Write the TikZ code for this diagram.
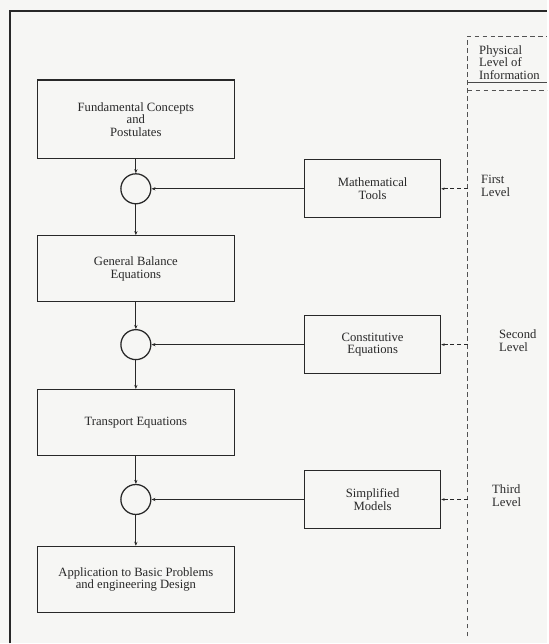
\documentclass[tikz,border=0pt]{standalone}
\usepackage{fontspec}
\setmainfont{Liberation Serif}
\usetikzlibrary{arrows.meta}
\definecolor{bgcol}{RGB}{246,246,244}
\definecolor{inkcol}{RGB}{40,40,40}
\begin{document}
\begin{tikzpicture}[x=0.75pt,y=-0.75pt,
  lbl/.style={font=\fontsize{9.5}{9.4}\selectfont, text=inkcol},
  mainbox/.style={lbl, draw=inkcol, line width=1pt, minimum width=147.75pt, minimum height=49.5pt, inner sep=0pt, align=center},
  sidebox/.style={lbl, draw=inkcol, line width=1pt, minimum width=102pt, minimum height=43.5pt, inner sep=0pt, align=center},
  joint/.style={circle, draw=inkcol, line width=0.95pt, minimum size=22.5pt, inner sep=0pt},
  arr/.style={draw=inkcol, line width=0.65pt, -{Stealth[length=3pt,width=2.4pt]}},
  dasharr/.style={draw=inkcol, line width=0.5pt, dash pattern=on 3pt off 2pt, -{Stealth[length=2.6pt,width=2pt]}},
  dashline/.style={draw=inkcol!80, line width=0.55pt, dash pattern=on 3.5pt off 2.5pt}]
\fill[bgcol] (0,0) rectangle (548,644);
% frame
\draw[inkcol, line width=1pt] (10,644) -- (10,11) -- (548,11);
% main column
\node[mainbox, minimum height=59.25pt] (b1) at (136,119.5) {Fundamental Concepts\\and\\Postulates};
\node[joint] (c1) at (136,189) {};
\node[mainbox] (b2) at (136,269) {General Balance\\Equations};
\node[joint] (c2) at (136,345) {};
\node[mainbox] (b3) at (136,423) {Transport Equations};
\node[joint] (c3) at (136,500) {};
\node[mainbox] (b4) at (136,580) {Application to Basic Problems\\and engineering Design};
% side boxes
\node[sidebox] (r1) at (373,189) {Mathematical\\Tools};
\node[sidebox] (r2) at (373,345) {Constitutive\\Equations};
\node[sidebox] (r3) at (373,500) {Simplified\\Models};
% vertical flow
\draw[arr] (b1) -- (c1);
\draw[arr] (c1) -- (b2);
\draw[arr] (b2) -- (c2);
\draw[arr] (c2) -- (b3);
\draw[arr] (b3) -- (c3);
\draw[arr] (c3) -- (b4);
% side inputs
\draw[arr] (r1) -- (c1);
\draw[arr] (r2) -- (c2);
\draw[arr] (r3) -- (c3);
% physical level column
\coordinate (ptop) at (468,36);
\coordinate (pbot) at (468,637);
\coordinate (pright) at (548,36);
\coordinate (d1) at (468,189);
\coordinate (d2) at (468,345);
\coordinate (d3) at (468,500);
\draw[dashline] (pbot) -- (ptop) -- (pright);
\coordinate (h1l) at (468,83);
\coordinate (h1r) at (548,83);
\coordinate (h2l) at (468,90);
\coordinate (h2r) at (548,90);
\draw[inkcol!85, line width=0.65pt] (h1l) -- (h1r);
\draw[dashline] (h2l) -- (h2r);
\node[lbl, anchor=north west, align=left] (hdr) at (475,41) {Physical\\Level of\\Information};
\draw[dasharr] (d1) -- (r1.east);
\draw[dasharr] (d2) -- (r2.east);
\draw[dasharr] (d3) -- (r3.east);
\node[lbl, anchor=west, align=left] (l1) at (477,186) {First\\Level};
\node[lbl, anchor=west, align=left] (l2) at (495,341) {Second\\Level};
\node[lbl, anchor=west, align=left] (l3) at (488,496) {Third\\Level};
\end{tikzpicture}
\end{document}
